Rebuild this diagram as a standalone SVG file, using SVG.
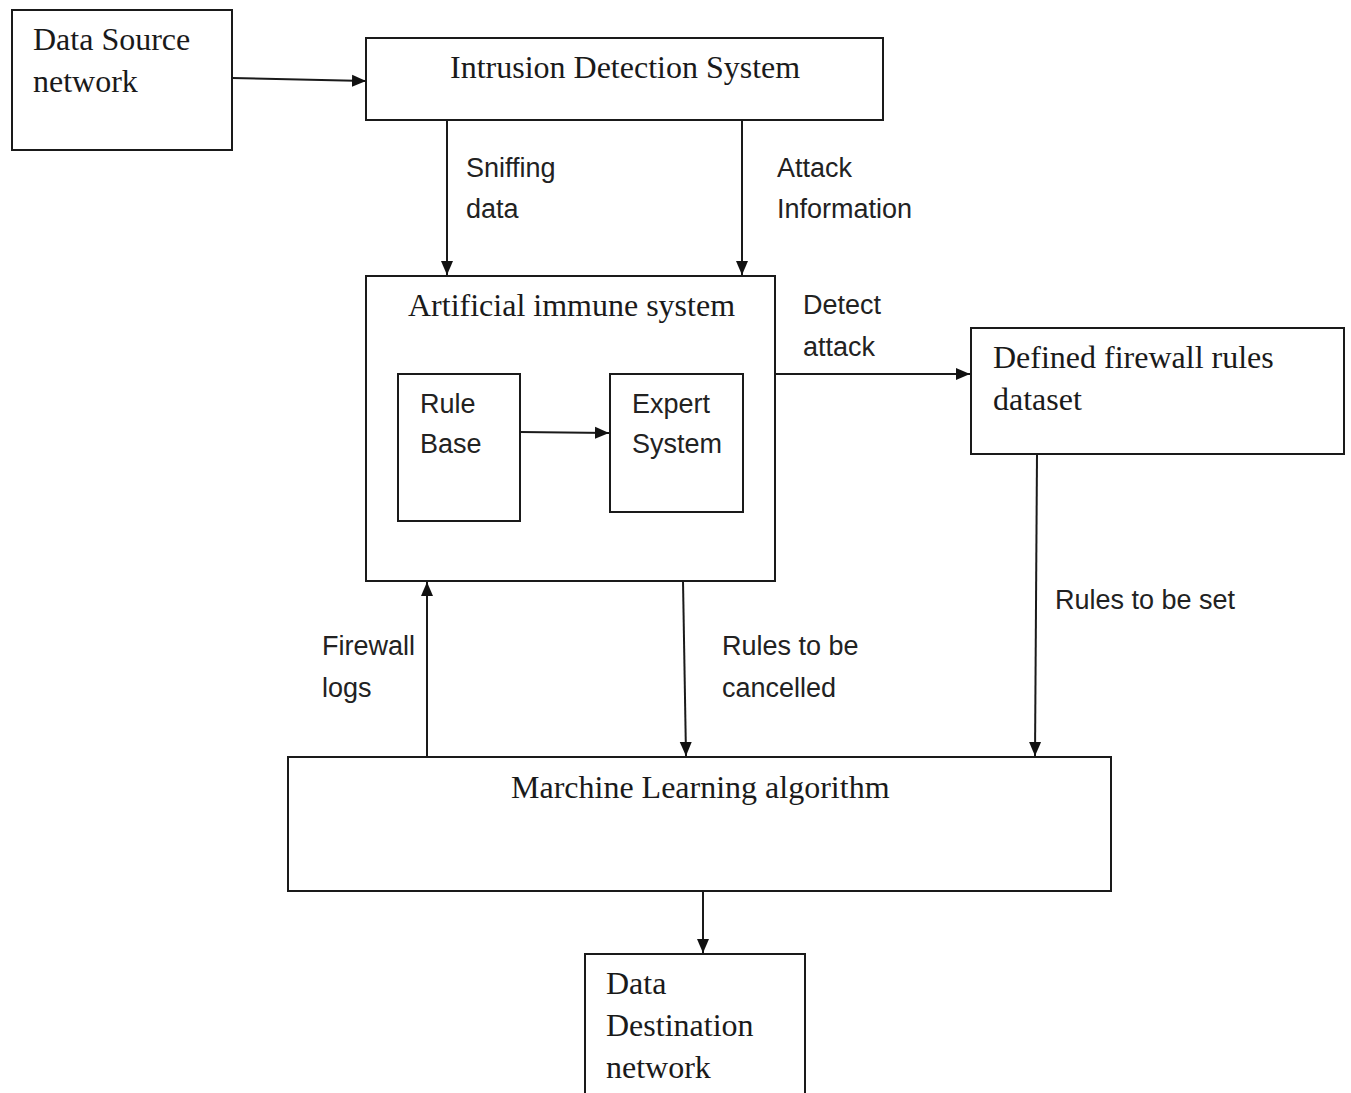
<svg xmlns="http://www.w3.org/2000/svg" width="1351" height="1093" viewBox="0 0 1351 1093">
<defs>
<style>
.box{fill:#fff;stroke:#1a1a1a;stroke-width:2}
.ser{font-family:"Liberation Serif","Times New Roman",serif;font-size:32px;fill:#1a1a1a}
.san{font-family:"Liberation Sans",Arial,sans-serif;font-size:27px;fill:#222}
.con{stroke:#1a1a1a;stroke-width:2;fill:none;marker-end:url(#ah)}
</style>
<marker id="ah" markerUnits="userSpaceOnUse" markerWidth="16" markerHeight="14" refX="14" refY="7" orient="auto">
<path d="M0,1 L14,7 L0,13 z" fill="#111"/>
</marker>
</defs>
<rect width="1351" height="1093" fill="#fff"/>
<g id="data-source">
<rect class="box" x="12" y="10" width="220" height="140"/>
<text class="ser" x="33" y="50">Data Source</text>
<text class="ser" x="33" y="92">network</text>
</g>
<g id="ids">
<rect class="box" x="366" y="38" width="517" height="82"/>
<text class="ser" x="450" y="78">Intrusion Detection System</text>
</g>
<g id="ais">
<rect class="box" x="366" y="276" width="409" height="305"/>
<text class="ser" x="408" y="316">Artificial immune system</text>
</g>
<g id="rule-base">
<rect class="box" x="398" y="374" width="122" height="147"/>
<text class="san" x="420" y="413">Rule</text>
<text class="san" x="420" y="453">Base</text>
</g>
<g id="expert-system">
<rect class="box" x="610" y="374" width="133" height="138"/>
<text class="san" x="632" y="413">Expert</text>
<text class="san" x="632" y="453">System</text>
</g>
<g id="firewall-rules">
<rect class="box" x="971" y="328" width="373" height="126"/>
<text class="ser" x="993" y="368">Defined firewall rules</text>
<text class="ser" x="993" y="410">dataset</text>
</g>
<g id="ml">
<rect class="box" x="288" y="757" width="823" height="134"/>
<text class="ser" x="511" y="798">Marchine Learning algorithm</text>
</g>
<g id="data-destination">
<rect class="box" x="585" y="954" width="220" height="145"/>
<text class="ser" x="606" y="994">Data</text>
<text class="ser" x="606" y="1036">Destination</text>
<text class="ser" x="606" y="1078">network</text>
</g>
<g id="connectors">
<line class="con" x1="232" y1="78" x2="366" y2="81"/>
<line class="con" x1="447" y1="120" x2="447" y2="275"/>
<line class="con" x1="742" y1="120" x2="742" y2="275"/>
<line class="con" x1="775" y1="374" x2="970" y2="374"/>
<line class="con" x1="520" y1="432" x2="609" y2="433"/>
<line class="con" x1="427" y1="757" x2="427" y2="582"/>
<line class="con" x1="683" y1="581" x2="686" y2="756"/>
<line class="con" x1="1037" y1="454" x2="1035" y2="756"/>
<line class="con" x1="703" y1="891" x2="703" y2="953"/>
<text class="san" x="466" y="177">Sniffing</text>
<text class="san" x="466" y="218">data</text>
<text class="san" x="777" y="177">Attack</text>
<text class="san" x="777" y="218">Information</text>
<text class="san" x="803" y="314">Detect</text>
<text class="san" x="803" y="356">attack</text>
<text class="san" x="322" y="655">Firewall</text>
<text class="san" x="322" y="697">logs</text>
<text class="san" x="722" y="655">Rules to be</text>
<text class="san" x="722" y="697">cancelled</text>
<text class="san" x="1055" y="609">Rules to be set</text>
</g>
</svg>
